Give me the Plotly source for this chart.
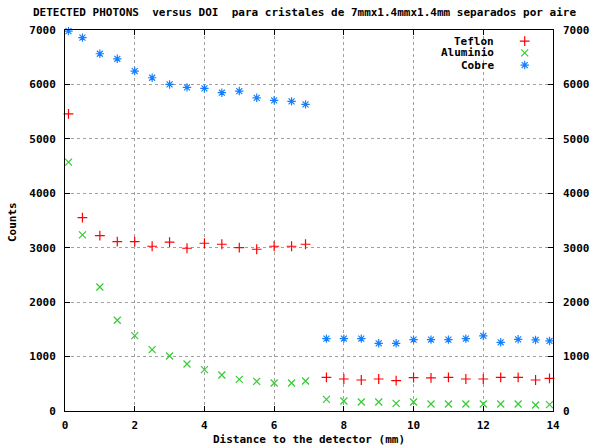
import plotly.graph_objects as go

# ---- data ----
dist = [0.1, 0.5, 1.0, 1.5, 2.0, 2.5, 3.0, 3.5, 4.0, 4.5, 5.0, 5.5, 6.0, 6.5, 6.9,
        7.5, 8.0, 8.5, 9.0, 9.5, 10.0, 10.5, 11.0, 11.5, 12.0, 12.5, 13.0, 13.5, 13.9]

teflon = [5460, 3553, 3222, 3112, 3112, 3027, 3101, 2990, 3082, 3064, 3002, 2972, 3027, 3027, 3064,
          619, 588, 570, 588, 557, 612, 607, 619, 588, 588, 619, 619, 570, 600]

aluminio = [4572, 3235, 2279, 1667, 1385, 1127, 1011, 864, 760, 662, 582, 545, 515, 515, 551,
            214, 184, 165, 165, 141, 165, 129, 129, 129, 129, 129, 129, 110, 116]

cobre = [6980, 6859, 6564, 6471, 6246, 6123, 6000, 5945, 5928, 5848, 5878, 5754, 5708, 5689, 5634,
         1329, 1329, 1329, 1244, 1244, 1311, 1311, 1311, 1329, 1379, 1262, 1317, 1305, 1287]

series_names = ["Teflon", "Aluminio", "Cobre"]
series_colors = ["#ff0000", "#33cc33", "#1580ff"]
series_symbols = ["cross-thin-open", "x-thin-open", "asterisk-open"]
series_sizes = [7, 7, 7]

x_ticks = [0, 2, 4, 6, 8, 10, 12, 14]
y_ticks = [0, 1000, 2000, 3000, 4000, 5000, 6000, 7000]

title_text = "DETECTED PHOTONS  versus DOI  para cristales de 7mmx1.4mmx1.4mm separados por aire"
xlabel = "Distance to the detector (mm)"
ylabel = "Counts"

FONT = "DejaVu Sans Mono"

fig = go.Figure()
for name, vals, col, sym, sz in zip(series_names, [teflon, aluminio, cobre],
                                     series_colors, series_symbols, series_sizes):
    fig.add_trace(go.Scatter(
        x=dist, y=vals, mode="markers", name=name, showlegend=False,
        marker=dict(symbol=sym, size=sz, color=col, line=dict(color=col, width=1.2)),
        xaxis="x", yaxis="y", cliponaxis=False,
    ))

# invisible trace for right-side axis labels
fig.add_trace(go.Scatter(x=[x_ticks[0]], y=[y_ticks[0]], mode="markers",
                         marker=dict(opacity=0), showlegend=False, hoverinfo="skip",
                         xaxis="x", yaxis="y2"))

# custom legend (key column on a unit overlay axis)
legend_rows = [0.971, 0.940, 0.908]
for name, col, sym, sz, ry in zip(series_names, series_colors, series_symbols, series_sizes, legend_rows):
    fig.add_trace(go.Scatter(
        x=[0.942], y=[ry], mode="markers", showlegend=False, hoverinfo="skip",
        marker=dict(symbol=sym, size=sz, color=col, line=dict(color=col, width=1.2)),
        xaxis="x3", yaxis="y3",
    ))
    fig.add_annotation(x=0.882, y=ry, xref="paper", yref="paper", text=name,
                       showarrow=False, xanchor="right", yanchor="middle", borderpad=0,
                       font=dict(family=FONT, size=11, color="black", weight="bold"))

tickfont = dict(family=FONT, size=11, color="black", weight="bold")

fig.update_layout(
    template="none",
    width=594, height=446,
    margin=dict(l=65, r=41, t=30, b=35, autoexpand=False),
    paper_bgcolor="white", plot_bgcolor="white",
    xaxis=dict(range=[0, 14], tickvals=x_ticks, ticks="inside", ticklen=5,
               tickcolor="black", showline=True, linecolor="black", linewidth=1,
               mirror="ticks", showgrid=True, gridcolor="#a0a0a0", griddash="dot",
               gridwidth=1, zeroline=False, tickfont=tickfont, ticklabelstandoff=4,
               automargin=False),
    yaxis=dict(range=[0, 7000], tickvals=y_ticks, ticks="inside", ticklen=5,
               tickcolor="black", showline=True, linecolor="black", linewidth=1,
               mirror="ticks", showgrid=True, gridcolor="#a0a0a0", griddash="dot",
               gridwidth=1, zeroline=False, tickfont=tickfont, ticklabelstandoff=6,
               automargin=False),
    yaxis2=dict(range=[0, 7000], tickvals=y_ticks, overlaying="y", side="right",
                showgrid=False, zeroline=False, ticks="", showline=False,
                tickfont=tickfont, ticklabelstandoff=9, automargin=False),
    xaxis3=dict(range=[0, 1], overlaying="x", visible=False, automargin=False),
    yaxis3=dict(range=[0, 1], overlaying="y", visible=False, automargin=False),
    showlegend=False,
)

fig.add_annotation(x=0.491, y=1.046, xref="paper", yref="paper", text=title_text,
                   showarrow=False, xanchor="center", yanchor="middle",
                   font=dict(family=FONT, size=11, color="black", weight="bold"))
fig.add_annotation(x=0.5, y=-0.076, xref="paper", yref="paper", text=xlabel,
                   showarrow=False, xanchor="center", yanchor="middle",
                   font=dict(family=FONT, size=11, color="black", weight="bold"))
fig.add_annotation(x=-0.1085, y=0.496, xref="paper", yref="paper", text=ylabel,
                   showarrow=False, xanchor="center", yanchor="middle", textangle=-90,
                   font=dict(family=FONT, size=11, color="black", weight="bold"))

fig.write_html("out.html", config={"displayModeBar": False},
               post_script="document.body.style.margin='0';")
